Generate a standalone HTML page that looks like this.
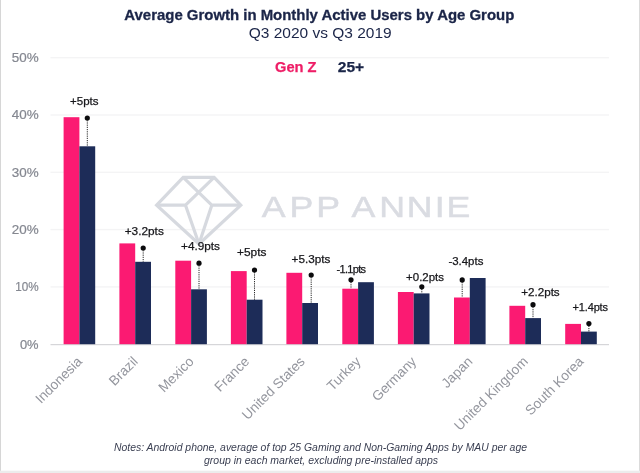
<!DOCTYPE html>
<html lang="en">
<head>
<meta charset="utf-8">
<title>Average Growth in Monthly Active Users by Age Group</title>
<style>
html,body{margin:0;padding:0;background:#fff;}
body{width:640px;height:473px;overflow:hidden;position:relative;font-family:"Liberation Sans",sans-serif;}
svg{position:absolute;left:0;top:0;display:block;}
text{font-family:"Liberation Sans",sans-serif;}
.ax{fill:#858891;font-size:12.2px;stroke:#858891;stroke-width:0.2px;}
.lb{fill:#17171b;font-size:11px;stroke:#17171b;stroke-width:0.25px;}
.ct{fill:#94969e;font-size:13.7px;}
.nt{fill:#3a3f52;font-size:10.5px;font-style:italic;}
</style>
</head>
<body>
<svg width="640" height="473" viewBox="0 0 640 473">
<rect x="0" y="0" width="640" height="473" fill="#ffffff"/>
<rect x="0" y="0" width="1" height="473" fill="#d6d6d6"/>
<rect x="639" y="0" width="1" height="473" fill="#dbdbdb"/>
<rect x="0" y="470.7" width="640" height="2.3" fill="#ececec"/>
<rect x="50.5" y="286.20" width="558.5" height="1.4" fill="#f4f4f5"/>
<rect x="50.5" y="228.90" width="558.5" height="1.4" fill="#f4f4f5"/>
<rect x="50.5" y="171.60" width="558.5" height="1.4" fill="#f4f4f5"/>
<rect x="50.5" y="114.30" width="558.5" height="1.4" fill="#f4f4f5"/>
<rect x="50.5" y="57.00" width="558.5" height="1.4" fill="#f4f4f5"/>
<g fill="none" stroke="#d6d9df" stroke-width="3.2" stroke-linejoin="miter">
<path d="M183.2 177.3 L214.1 177.3 L240.8 205.2 L199 244 L156.6 205.2 Z"/>
<path d="M183.2 177.3 L211.8 205.2 L199 244 M214.1 177.3 L185.5 205.2 L199 244 M156.6 205.2 L185.5 205.2 M211.8 205.2 L240.8 205.2"/>
</g>
<g transform="scale(1.19,1)"><text x="220.04 243.25 265.82 287.39 295.42 318.74 341.85 365.31 375.19" y="217.5" font-size="30.0" fill="#dadce2" stroke="#dadce2" stroke-width="0.5">APP ANNIE</text></g>
<rect x="50.5" y="344.10" width="558.5" height="1.1" fill="#d2d2d5"/>
<rect x="63.60" y="117.20" width="15.80" height="227.00" fill="#fb1a72"/>
<rect x="79.40" y="146.30" width="15.80" height="197.90" fill="#1d2c58"/>
<rect x="119.40" y="243.40" width="15.80" height="100.80" fill="#fb1a72"/>
<rect x="135.20" y="261.80" width="15.80" height="82.40" fill="#1d2c58"/>
<rect x="175.30" y="260.70" width="15.80" height="83.50" fill="#fb1a72"/>
<rect x="191.10" y="289.30" width="15.80" height="54.90" fill="#1d2c58"/>
<rect x="230.90" y="271.10" width="15.80" height="73.10" fill="#fb1a72"/>
<rect x="246.70" y="299.70" width="15.80" height="44.50" fill="#1d2c58"/>
<rect x="286.40" y="272.80" width="15.80" height="71.40" fill="#fb1a72"/>
<rect x="302.20" y="303.00" width="15.80" height="41.20" fill="#1d2c58"/>
<rect x="342.30" y="288.70" width="15.80" height="55.50" fill="#fb1a72"/>
<rect x="358.10" y="282.20" width="15.80" height="62.00" fill="#1d2c58"/>
<rect x="397.90" y="292.00" width="15.80" height="52.20" fill="#fb1a72"/>
<rect x="413.70" y="293.40" width="15.80" height="50.80" fill="#1d2c58"/>
<rect x="454.00" y="297.50" width="15.80" height="46.70" fill="#fb1a72"/>
<rect x="469.80" y="278.00" width="15.80" height="66.20" fill="#1d2c58"/>
<rect x="509.40" y="305.80" width="15.80" height="38.40" fill="#fb1a72"/>
<rect x="525.20" y="318.10" width="15.80" height="26.10" fill="#1d2c58"/>
<rect x="565.20" y="323.90" width="15.80" height="20.30" fill="#fb1a72"/>
<rect x="581.00" y="331.60" width="15.80" height="12.60" fill="#1d2c58"/>
<line x1="87.3" y1="118" x2="87.3" y2="146.30" stroke="#111" stroke-width="0.9" stroke-dasharray="1.2 1"/>
<circle cx="87.3" cy="118" r="2.6" fill="#0b0b0d"/>
<line x1="143.2" y1="248" x2="143.2" y2="261.80" stroke="#111" stroke-width="0.9" stroke-dasharray="1.2 1"/>
<circle cx="143.2" cy="248" r="2.6" fill="#0b0b0d"/>
<line x1="199" y1="263.2" x2="199" y2="289.30" stroke="#111" stroke-width="0.9" stroke-dasharray="1.2 1"/>
<circle cx="199" cy="263.2" r="2.6" fill="#0b0b0d"/>
<line x1="254.5" y1="270" x2="254.5" y2="299.70" stroke="#111" stroke-width="0.9" stroke-dasharray="1.2 1"/>
<circle cx="254.5" cy="270" r="2.6" fill="#0b0b0d"/>
<line x1="311.2" y1="275" x2="311.2" y2="303.00" stroke="#111" stroke-width="0.9" stroke-dasharray="1.2 1"/>
<circle cx="311.2" cy="275" r="2.6" fill="#0b0b0d"/>
<line x1="351" y1="279.8" x2="351" y2="288.70" stroke="#111" stroke-width="0.9" stroke-dasharray="1.2 1"/>
<circle cx="351" cy="279.8" r="2.6" fill="#0b0b0d"/>
<line x1="421.8" y1="286.8" x2="421.8" y2="293.40" stroke="#111" stroke-width="0.9" stroke-dasharray="1.2 1"/>
<circle cx="421.8" cy="286.8" r="2.6" fill="#0b0b0d"/>
<line x1="462.2" y1="279.9" x2="462.2" y2="297.50" stroke="#111" stroke-width="0.9" stroke-dasharray="1.2 1"/>
<circle cx="462.2" cy="279.9" r="2.6" fill="#0b0b0d"/>
<line x1="533" y1="304.7" x2="533" y2="318.10" stroke="#111" stroke-width="0.9" stroke-dasharray="1.2 1"/>
<circle cx="533" cy="304.7" r="2.6" fill="#0b0b0d"/>
<line x1="588.9" y1="323.6" x2="588.9" y2="331.60" stroke="#111" stroke-width="0.9" stroke-dasharray="1.2 1"/>
<circle cx="588.9" cy="323.6" r="2.6" fill="#0b0b0d"/>
<text class="lb" x="70" y="105.0" textLength="28.5" lengthAdjust="spacingAndGlyphs">+5pts</text>
<text class="lb" x="124.7" y="235.4" textLength="39.1" lengthAdjust="spacingAndGlyphs">+3.2pts</text>
<text class="lb" x="181" y="250.4" textLength="39.0" lengthAdjust="spacingAndGlyphs">+4.9pts</text>
<text class="lb" x="237" y="255.9" textLength="29.4" lengthAdjust="spacingAndGlyphs">+5pts</text>
<text class="lb" x="291.6" y="263.4" textLength="38.8" lengthAdjust="spacingAndGlyphs">+5.3pts</text>
<text class="lb" x="336.5" y="273.4" textLength="29.5" lengthAdjust="spacing">-1.1pts</text>
<text class="lb" x="406.1" y="280.9" textLength="37.9" lengthAdjust="spacingAndGlyphs">+0.2pts</text>
<text class="lb" x="448.4" y="265.4" textLength="35.0" lengthAdjust="spacingAndGlyphs">-3.4pts</text>
<text class="lb" x="521.2" y="295.5" textLength="38.5" lengthAdjust="spacingAndGlyphs">+2.2pts</text>
<text class="lb" x="572.6" y="311.4" textLength="35.4" lengthAdjust="spacing">+1.4pts</text>
<text class="ax" transform="translate(38.6,348.60) scale(1.06,1)" text-anchor="end">0%</text>
<text class="ax" transform="translate(38.6,291.30) scale(0.96,1)" text-anchor="end">10%</text>
<text class="ax" transform="translate(38.6,234.00) scale(1.1,1)" text-anchor="end">20%</text>
<text class="ax" transform="translate(38.6,176.70) scale(1.1,1)" text-anchor="end">30%</text>
<text class="ax" transform="translate(38.6,119.40) scale(1.1,1)" text-anchor="end">40%</text>
<text class="ax" transform="translate(38.6,62.10) scale(1.1,1)" text-anchor="end">50%</text>
<text class="ct" transform="translate(82.9,362.3) rotate(-45)" text-anchor="end">Indonesia</text>
<text class="ct" transform="translate(138.7,362.3) rotate(-45)" text-anchor="end">Brazil</text>
<text class="ct" transform="translate(194.6,362.3) rotate(-45)" text-anchor="end">Mexico</text>
<text class="ct" transform="translate(250.2,362.3) rotate(-45)" text-anchor="end">France</text>
<text class="ct" transform="translate(305.7,362.3) rotate(-45)" text-anchor="end">United States</text>
<text class="ct" transform="translate(361.6,362.3) rotate(-45)" text-anchor="end">Turkey</text>
<text class="ct" transform="translate(417.2,362.3) rotate(-45)" text-anchor="end">Germany</text>
<text class="ct" transform="translate(473.3,362.3) rotate(-45)" text-anchor="end">Japan</text>
<text class="ct" transform="translate(528.7,362.3) rotate(-45)" text-anchor="end">United Kingdom</text>
<text class="ct" transform="translate(584.5,362.3) rotate(-45)" text-anchor="end">South Korea</text>
<text x="124.3" y="19.7" font-size="14.4" font-weight="bold" fill="#1b2548" stroke="#1b2548" stroke-width="0.3" textLength="390" lengthAdjust="spacingAndGlyphs">Average Growth in Monthly Active Users by Age Group</text>
<text x="248.7" y="37.8" font-size="14.2" fill="#1b2548" textLength="143" lengthAdjust="spacingAndGlyphs">Q3 2020 vs Q3 2019</text>
<text x="275" y="72" font-size="14" font-weight="bold" fill="#ee1d66" stroke="#ee1d66" stroke-width="0.25" textLength="41.5" lengthAdjust="spacingAndGlyphs">Gen Z</text>
<text x="337.8" y="72" font-size="14" font-weight="bold" fill="#1a2548" stroke="#1a2548" stroke-width="0.25" textLength="26.4" lengthAdjust="spacingAndGlyphs">25+</text>
<text class="nt" x="114" y="451.4" textLength="413" lengthAdjust="spacingAndGlyphs">Notes: Android phone, average of top 25 Gaming and Non-Gaming Apps by MAU per age</text>
<text class="nt" x="204" y="463.6" textLength="234" lengthAdjust="spacingAndGlyphs">group in each market, excluding pre-installed apps</text>
</svg>
</body>
</html>
